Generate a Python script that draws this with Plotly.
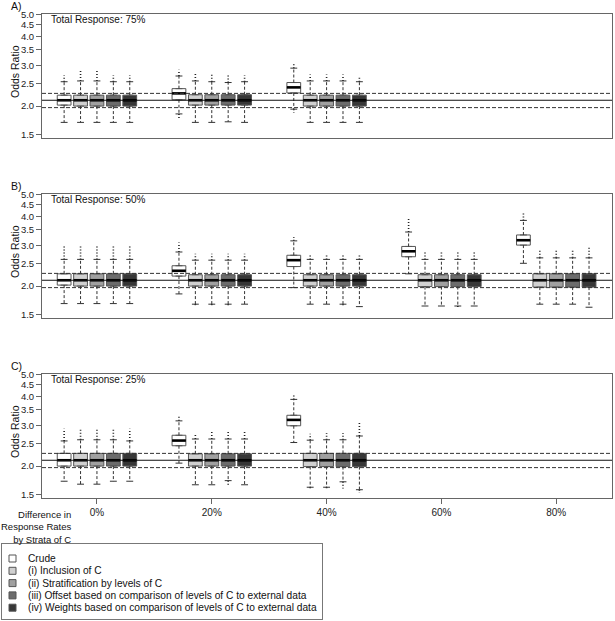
import math
import plotly.graph_objects as go

# ---------------- data ----------------
groups = ["0%", "20%", "40%", "60%", "80%"]
methods = ["Crude", "(i) Inclusion of C", "(ii) Stratification by levels of C",
           "(iii) Offset based on comparison of levels of C to external data",
           "(iv) Weights based on comparison of levels of C to external data"]
panel_labels = ["A)", "B)", "C)"]
panel_titles = ["Total Response: 75%", "Total Response: 50%", "Total Response: 25%"]
ytick_vals = [1.5, 2.0, 2.5, 3.0, 3.5, 4.0, 4.5, 5.0]
true_or = 2.12
ci_low, ci_high = 1.97, 2.27

# rows = difference groups present in the panel, columns = methods
A_q1 = [[2.02, 2.00, 2.00, 2.00, 2.00], [2.13, 2.02, 2.02, 2.02, 2.02], [2.28, 2.00, 2.00, 2.00, 2.00]]
A_med = [[2.12, 2.12, 2.12, 2.12, 2.12], [2.27, 2.12, 2.12, 2.12, 2.12], [2.41, 2.12, 2.12, 2.12, 2.12]]
A_q3 = [[2.23, 2.23, 2.23, 2.23, 2.23], [2.38, 2.24, 2.24, 2.24, 2.24], [2.53, 2.23, 2.23, 2.23, 2.23]]
A_wlo = [[1.70, 1.70, 1.70, 1.70, 1.70], [1.85, 1.70, 1.70, 1.71, 1.70], [1.94, 1.70, 1.70, 1.70, 1.70]]
A_whi = [[2.55, 2.57, 2.57, 2.55, 2.55], [2.70, 2.57, 2.55, 2.53, 2.55], [2.92, 2.57, 2.57, 2.57, 2.55]]
A_olo = [[None, None, None, None, None], [1.76, None, None, None, None], [1.87, None, None, None, None]]
A_ohi = [[2.72, 2.84, 2.84, 2.72, 2.72], [2.87, 2.78, 2.75, 2.72, 2.72], [3.10, 2.74, 2.74, 2.74, 2.70]]

B_q1 = [[2.02, 2.00, 2.00, 2.00, 2.00], [2.21, 2.00, 2.00, 2.00, 2.00], [2.43, 2.00, 2.00, 2.00, 2.00],
        [2.68, 1.99, 1.99, 1.99, 1.99], [3.01, 1.98, 1.98, 1.98, 1.98]]
B_med = [[2.12, 2.12, 2.12, 2.12, 2.12], [2.33, 2.12, 2.12, 2.12, 2.12], [2.59, 2.12, 2.12, 2.12, 2.12],
         [2.83, 2.12, 2.12, 2.12, 2.12], [3.16, 2.12, 2.12, 2.12, 2.12]]
B_q3 = [[2.26, 2.26, 2.26, 2.26, 2.26], [2.45, 2.24, 2.24, 2.24, 2.24], [2.72, 2.24, 2.24, 2.24, 2.24],
        [2.97, 2.24, 2.24, 2.24, 2.24], [3.33, 2.26, 2.26, 2.26, 2.26]]
B_wlo = [[1.68, 1.68, 1.68, 1.68, 1.68], [1.85, 1.67, 1.67, 1.67, 1.67], [1.97, 1.67, 1.67, 1.67, 1.63],
         [2.26, 1.64, 1.64, 1.64, 1.64], [2.51, 1.67, 1.67, 1.67, 1.62]]
B_whi = [[2.61, 2.61, 2.61, 2.61, 2.61], [2.81, 2.59, 2.59, 2.59, 2.59], [3.14, 2.61, 2.61, 2.61, 2.61],
         [3.43, 2.61, 2.61, 2.61, 2.61], [3.85, 2.65, 2.65, 2.65, 2.65]]
B_olo = [[None, None, None, None, None], [None, 1.63, 1.63, 1.63, None], [None, None, None, 1.63, None],
         [None, None, None, 1.60, None], [None, None, None, None, None]]
B_ohi = [[3.02, 3.00, 3.00, 3.02, 3.02], [3.09, 2.76, 2.76, 2.76, 2.76], [3.26, 2.72, 2.72, 2.72, 2.72],
         [3.90, 2.83, 2.83, 2.83, 2.83], [4.12, 2.90, 2.90, 2.90, 2.95]]

C_q1 = [[2.00, 2.00, 2.00, 2.00, 2.00], [2.45, 2.00, 2.00, 2.00, 2.00], [2.99, 1.99, 1.99, 1.99, 1.99]]
C_med = [[2.12, 2.12, 2.12, 2.12, 2.12], [2.58, 2.12, 2.12, 2.12, 2.12], [3.17, 2.12, 2.12, 2.12, 2.12]]
C_q3 = [[2.27, 2.27, 2.27, 2.27, 2.27], [2.72, 2.26, 2.26, 2.26, 2.26], [3.32, 2.27, 2.27, 2.27, 2.27]]
C_wlo = [[1.72, 1.67, 1.67, 1.72, 1.72], [2.06, 1.66, 1.66, 1.73, 1.66], [2.53, 1.62, 1.62, 1.71, 1.58]]
C_whi = [[2.57, 2.60, 2.60, 2.60, 2.57], [3.14, 2.62, 2.62, 2.62, 2.62], [3.89, 2.59, 2.60, 2.60, 2.70]]
C_olo = [[None, None, None, None, None], [None, None, None, 1.66, None], [None, 1.58, 1.58, 1.60, 1.53]]
C_ohi = [[2.90, 2.87, 2.88, 2.90, 2.90], [3.33, 2.76, 2.84, 2.86, 2.86], [4.12, 2.76, 2.78, 2.78, 3.12]]

panels = [
    (A_q1, A_med, A_q3, A_wlo, A_whi, A_olo, A_ohi),
    (B_q1, B_med, B_q3, B_wlo, B_whi, B_olo, B_ohi),
    (C_q1, C_med, C_q3, C_wlo, C_whi, C_olo, C_ohi),
]

# ---------------- style ----------------
W, H = 615, 621
FONT = "Arial, Liberation Sans, sans-serif"
fills = ["#ffffff", "#d0d0d0", "#a0a0a0", "#6c6c6c", "#373737"]
edge = "#555555"
frame = "#666666"
group_step = 7
box_w = 0.84
x_range = [-3.35, 31.4]
x_dom = [42 / W, 612 / W]
panel_px = [(14, 138), (194, 318), (374, 498)]
y_range = [math.log10(1.455), math.log10(5.01)]


def ydom(top, bot):
    return [1 - bot / H, 1 - top / H]


fig = go.Figure()
annotations = []

for p, (q1, med, q3, wlo, whi, olo, ohi) in enumerate(panels):
    xa = "x" if p == 0 else f"x{p + 1}"
    ya = "y" if p == 0 else f"y{p + 1}"
    ng = len(q1)
    # boxes
    for m in range(5):
        xs = [group_step * g + m - 2 for g in range(ng)]
        fig.add_trace(go.Box(
            x=xs, q1=[r[m] for r in q1], median=[r[m] for r in med], q3=[r[m] for r in q3],
            lowerfence=[r[m] for r in q1], upperfence=[r[m] for r in q3],
            width=box_w, fillcolor=fills[m], line=dict(color=edge, width=1),
            boxpoints=False, xaxis=xa, yaxis=ya, hoverinfo="skip", showlegend=False))
    wx, wy, sx, sy, mx, my, ox, oy = [], [], [], [], [], [], [], []
    for g in range(ng):
        for m in range(5):
            x = group_step * g + m - 2
            wx += [x, x, None, x, x, None]
            wy += [q3[g][m], whi[g][m], None, q1[g][m], wlo[g][m], None]
            sx += [x - box_w / 4, x + box_w / 4, None, x - box_w / 4, x + box_w / 4, None]
            sy += [whi[g][m], whi[g][m], None, wlo[g][m], wlo[g][m], None]
            mx += [x - box_w / 2, x + box_w / 2, None]
            my += [med[g][m], med[g][m], None]
            if ohi[g][m] is not None:
                ox += [x, x, None]
                oy += [whi[g][m], ohi[g][m], None]
            if olo[g][m] is not None:
                ox += [x, x, None]
                oy += [wlo[g][m], olo[g][m], None]
    common = dict(xaxis=xa, yaxis=ya, mode="lines", hoverinfo="skip", showlegend=False)
    fig.add_trace(go.Scatter(x=wx, y=wy, line=dict(color="#333333", width=1, dash="3px,2px"), **common))
    fig.add_trace(go.Scatter(x=sx, y=sy, line=dict(color="#333333", width=1), **common))
    fig.add_trace(go.Scatter(x=ox, y=oy, line=dict(color="#222222", width=1.6, dash="1px,2px"), **common))
    fig.add_trace(go.Scatter(x=mx, y=my, line=dict(color="#000000", width=2.6), **common))
    # reference lines
    fig.add_trace(go.Scatter(x=x_range, y=[true_or, true_or], line=dict(color="#111111", width=1), **common))
    for v in (ci_low, ci_high):
        fig.add_trace(go.Scatter(x=x_range, y=[v, v], line=dict(color="#333333", width=1, dash="4px,2px"), **common))

    top, bot = panel_px[p]
    dom = ydom(top, bot)
    xkey = "xaxis" if p == 0 else f"xaxis{p + 1}"
    ykey = "yaxis" if p == 0 else f"yaxis{p + 1}"
    last = p == 2
    fig.update_layout({
        xkey: dict(domain=x_dom, range=x_range, anchor=ya, showgrid=False, zeroline=False,
                   showline=True, mirror=True, linecolor=frame, linewidth=1,
                   tickmode="array", tickvals=[group_step * g for g in range(5)] if last else [],
                   ticktext=groups if last else [], ticks="outside" if last else "",
                   ticklen=5, tickcolor=frame, showticklabels=last,
                   tickfont=dict(family=FONT, size=10, color="#222222")),
        ykey: dict(domain=dom, type="log", range=y_range, anchor=xa, showgrid=False, zeroline=False,
                   showline=True, mirror=True, linecolor=frame, linewidth=1,
                   tickmode="array", tickvals=ytick_vals, ticktext=[f"{v:.1f}" for v in ytick_vals],
                   ticks="outside", ticklen=5, tickcolor=frame,
                   tickfont=dict(family=FONT, size=9.5, color="#222222")),
    })
    annotations.append(dict(text=panel_labels[p], xref="paper", yref="paper", x=9 / W,
                            y=1 - (top - 8) / H, xanchor="left", yanchor="middle", showarrow=False,
                            font=dict(family=FONT, size=10.5, color="#111111")))
    annotations.append(dict(text=panel_titles[p], xref="paper", yref="paper", x=49 / W,
                            y=1 - (top + 5) / H, xanchor="left", yanchor="middle", showarrow=False,
                            font=dict(family=FONT, size=10, color="#111111")))
    annotations.append(dict(text="Odds Ratio", xref="paper", yref="paper", x=15 / W,
                            y=(dom[0] + dom[1]) / 2 + 4 / H, xanchor="center", yanchor="middle",
                            textangle=-90, showarrow=False,
                            font=dict(family=FONT, size=10.5, color="#111111")))

annotations.append(dict(text="Difference in<br>Response Rates<br>by Strata of C", xref="paper", yref="paper",
                        x=73 / W, y=1 - 507 / H, xanchor="right", yanchor="top", align="right",
                        showarrow=False, font=dict(family=FONT, size=9.5, color="#111111")))

# ---------------- legend (own small axes) ----------------
leg_x = [2 / W, 322 / W]
leg_y = [1 - 619 / H, 1 - 544 / H]
leg_rows = [14.5 + 12.3 * i for i in range(5)]
fig.add_trace(go.Scatter(x=[10.5] * 5, y=leg_rows, mode="markers", xaxis="x4", yaxis="y4",
                         marker=dict(symbol="square", size=7, color=fills, line=dict(color=edge, width=1)),
                         hoverinfo="skip", showlegend=False))
for i, name in enumerate(methods):
    annotations.append(dict(text=name, xref="x4", yref="y4", x=24, y=leg_rows[i], xanchor="left",
                            yanchor="middle", showarrow=False,
                            font=dict(family=FONT, size=10.2, color="#111111")))
fig.update_layout(
    xaxis4=dict(domain=leg_x, range=[0, 320], anchor="y4", showgrid=False, zeroline=False,
                showticklabels=False, ticks="", showline=True, mirror=True, linecolor="#777777"),
    yaxis4=dict(domain=leg_y, range=[75, 0], anchor="x4", showgrid=False, zeroline=False,
                showticklabels=False, ticks="", showline=True, mirror=True, linecolor="#777777"),
)

fig.update_layout(width=W, height=H, margin=dict(l=0, r=0, t=0, b=0), template="none",
                  paper_bgcolor="white", plot_bgcolor="white", showlegend=False,
                  boxmode="overlay", annotations=annotations, font=dict(family=FONT))
fig.write_html("out.html", config={"displayModeBar": False},
               post_script="document.body.style.margin='0';document.body.style.overflow='hidden';")
